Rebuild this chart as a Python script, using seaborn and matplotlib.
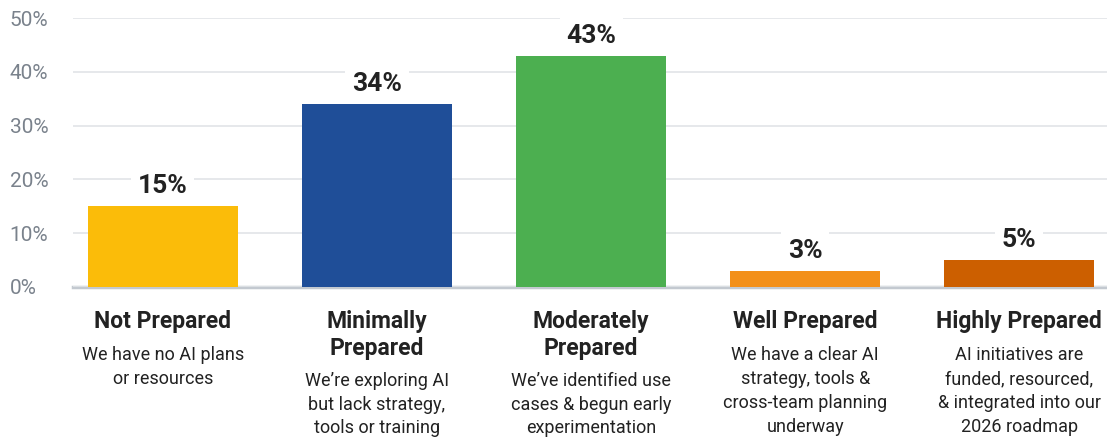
import matplotlib
matplotlib.use("Agg")
import matplotlib.pyplot as plt
import seaborn as sns
import pandas as pd
from matplotlib.ticker import FuncFormatter

categories = ["Not Prepared", "Minimally\nPrepared", "Moderately\nPrepared",
              "Well Prepared", "Highly Prepared"]
descriptions = [
    "We have no AI plans\nor resources",
    "We’re exploring AI\nbut lack strategy,\ntools or training",
    "We’ve identified use\ncases & begun early\nexperimentation",
    "We have a clear AI\nstrategy, tools &\ncross-team planning\nunderway",
    "AI initiatives are\nfunded, resourced,\n& integrated into our\n2026 roadmap",
]
values = [15, 34, 43, 3, 5]
colors = ["#FBBC09", "#1F4E98", "#4CAF50", "#F39019", "#CC5F00"]
y_ticks = [0, 10, 20, 30, 40, 50]

sns.set_theme(style="white")
plt.rcParams["font.family"] = ["Roboto", "DejaVu Sans"]

df = pd.DataFrame({"category": categories, "value": values})

fig = plt.figure(figsize=(11.07, 4.38), dpi=100)
ax = fig.add_axes([73 / 1107, 151 / 438, 1 - 73 / 1107, 269 / 438])

sns.barplot(data=df, x="category", y="value", hue="category",
            palette=colors, width=0.70, saturation=1, legend=False,
            linewidth=0, edgecolor="none", ax=ax)

ax.set_xlim(-0.42, 4.41)
ax.set_ylim(0, 50)
ax.set_yticks(y_ticks)
ax.yaxis.set_major_formatter(FuncFormatter(lambda v, _: f"{v:.0f}%"))
ax.tick_params(axis="y", length=0, pad=45.5, labelsize=15, labelcolor="#7A828C")
for lbl in ax.get_yticklabels():
    lbl.set_horizontalalignment("left")
ax.set_xticks([])
ax.set_xlabel("")
ax.set_ylabel("")

ax.grid(axis="y", color="#E1E4E8", linewidth=1.2)
ax.set_axisbelow(True)
for side in ["top", "right", "left"]:
    ax.spines[side].set_visible(False)
ax.spines["bottom"].set_color("#C3C9D0")
ax.spines["bottom"].set_linewidth(2.5)
ax.spines["bottom"].set_zorder(0.5)

# value labels on top of each bar
for i, v in enumerate(values):
    ax.annotate(f"{v}%", xy=(i, v), xytext=(0, 8), textcoords="offset pixels",
                ha="center", va="bottom", fontsize=19, fontweight="bold",
                color="#222222",
                bbox=dict(boxstyle="square,pad=0.25", facecolor="white",
                          edgecolor="none"))

# category titles and descriptions under the axis
title_line_px = 25.5
for i, (cat, desc) in enumerate(zip(categories, descriptions)):
    ax.annotate(cat, xy=(i, 0), xycoords=("data", "axes fraction"),
                xytext=(0, -23), textcoords="offset pixels",
                ha="center", va="top", fontsize=16.5, fontweight="bold",
                color="#222222", linespacing=1.2)
    n_lines = cat.count("\n") + 1
    ax.annotate(desc, xy=(i, 0), xycoords=("data", "axes fraction"),
                xytext=(0, -34 - title_line_px * n_lines),
                textcoords="offset pixels",
                ha="center", va="top", fontsize=13, color="#222222",
                linespacing=1.41)

fig.savefig("out.png", dpi=100)
